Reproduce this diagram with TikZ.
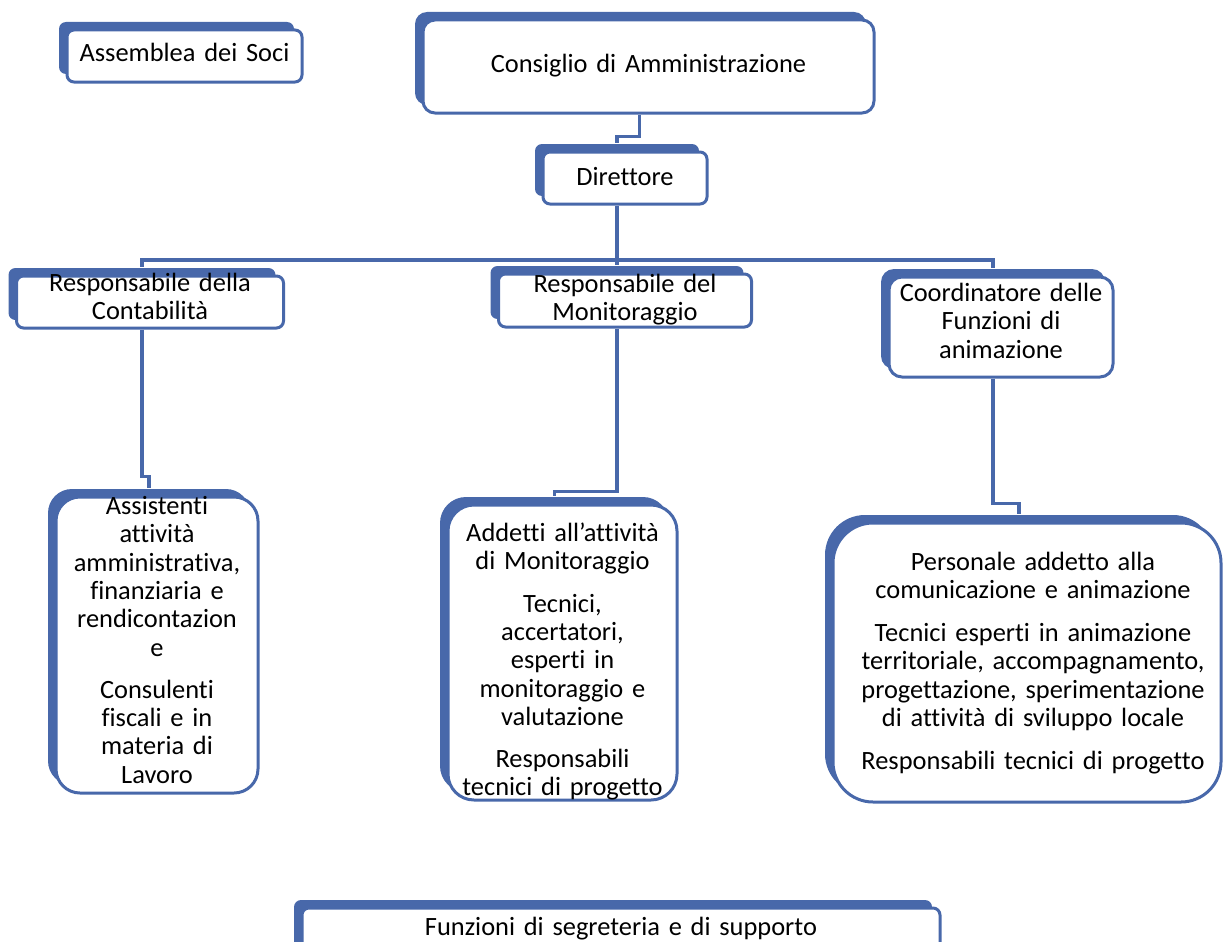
\documentclass[tikz,border=0pt]{standalone}
\usepackage{fontspec}
\setmainfont[Ligatures=NoCommon]{Carlito}
\usetikzlibrary{positioning}
\usetikzlibrary{shadows}

\definecolor{bblue}{RGB}{72,104,170}

\begin{document}
\begin{tikzpicture}[
    x=1pt, y=1pt,
    box/.style={rectangle, rounded corners=7pt, draw=bblue, line width=3pt, fill=white, inner sep=0pt,
      drop shadow={shadow xshift=-8pt, shadow yshift=8pt, fill=bblue, opacity=1}},
    txt/.style={align=center, inner sep=0pt, anchor=base, font=\fontsize{26.4}{28.3}\selectfont},
    conn/.style={draw=bblue, line width=3.2pt}
    ]
    \useasboundingbox (0,0) rectangle (1223,-942);
    \clip (0,0) rectangle (1223,-942);

    % boxes
    \node (asoci) [box, minimum width=235, minimum height=52] at (184.5,-56) {};
    \node (cda) [box, rounded corners=12pt, minimum width=451, minimum height=93] at (648.5,-66.5) {};
    \node (dir) [box, minimum width=164, minimum height=52] at (625,-178) {};
    \node (rcont) [box, minimum width=267, minimum height=52] at (150,-302) {};
    \node (rmon) [box, minimum width=253, minimum height=53] at (625,-300.5) {};
    \node (coord) [box, rounded corners=13pt, minimum width=224, minimum height=100] at (1001,-327) {};
    \node (assist) [box, rounded corners=24pt, minimum width=202, minimum height=296] at (157,-645) {};
    \node (addetti) [box, rounded corners=26pt, minimum width=229, minimum height=295] at (562.5,-652.5) {};
    \node (pers) [box, rounded corners=40pt, minimum width=388, minimum height=279] at (1027,-662.5) {};
    \node (funz) [box, minimum width=638, minimum height=52] at (621,-934) {};

    % texts
    \node (asocit) [txt, text width=235] at ([yshift=-33pt]asoci.north) {Assemblea dei Soci};
    \node (cdat) [txt, text width=451] at ([yshift=-54pt]cda.north) {Consiglio di Amministrazione};
    \node (dirt) [txt, text width=164] at ([yshift=-35pt]dir.north) {Direttore};
    \node (rcontt) [txt, text width=267] at ([yshift=-17pt]rcont.north) {Responsabile della\\Contabilità};
    \node (rmont) [txt, text width=253] at ([yshift=-20pt]rmon.north) {Responsabile del\\Monitoraggio};
    \node (coordt) [txt, text width=224] at ([yshift=-26pt]coord.north) {Coordinatore delle\\Funzioni di\\animazione};
    \node (assistt) [txt, text width=202] at ([yshift=-19pt]assist.north)
      {Assistenti\\attività\\amministrativa,\\finanziaria e\\rendicontazion\\e\\[14pt]Consulenti\\fiscali e in\\materia di\\Lavoro};
    \node (addettit) [txt, text width=229] at ([yshift=-38pt]addetti.north)
      {Addetti all’attività\\di Monitoraggio\\[14pt]Tecnici,\\accertatori,\\esperti in\\monitoraggio e\\valutazione\\[14pt]Responsabili\\tecnici di progetto};
    \node (perst) [txt, text width=388] at ([xshift=6pt,yshift=-49pt]pers.north)
      {Personale addetto alla\\comunicazione e animazione\\[14.5pt]Tecnici esperti in animazione\\territoriale, accompagnamento,\\progettazione, sperimentazione\\di attività di sviluppo locale\\[14.5pt]Responsabili tecnici di progetto};
    \node (funzt) [txt, text width=638] at ([yshift=-29pt]funz.north) {Funzioni di segreteria e di supporto};

    % connectors
    \coordinate (bus) at (617,-260);
    \draw[conn] ([xshift=-9pt]cda.south) -- ++(0,-22) -| ([xshift=-8pt,yshift=8pt]dir.north);
    \draw[conn] ([xshift=-8pt]dir.south) |- (bus) -| ([xshift=-8pt,yshift=8pt]rcont.north);
    \draw[conn] (bus) -- ([xshift=-8pt,yshift=8pt]rmon.north);
    \draw[conn] (bus) -| ([xshift=-8pt,yshift=8pt]coord.north);
    \draw[conn] ([xshift=-8pt]rcont.south) |- ([xshift=-8pt,yshift=19pt]assist.north) -- ([xshift=-8pt,yshift=8pt]assist.north);
    \draw[conn] ([xshift=-8pt]rmon.south) |- ([xshift=-8pt,yshift=12pt]addetti.north) -- ([xshift=-8pt,yshift=8pt]addetti.north);
    \draw[conn] ([xshift=-8pt]coord.south) |- ([xshift=-8pt,yshift=18pt]pers.north) -- ([xshift=-8pt,yshift=8pt]pers.north);
  \end{tikzpicture}
\end{document}
